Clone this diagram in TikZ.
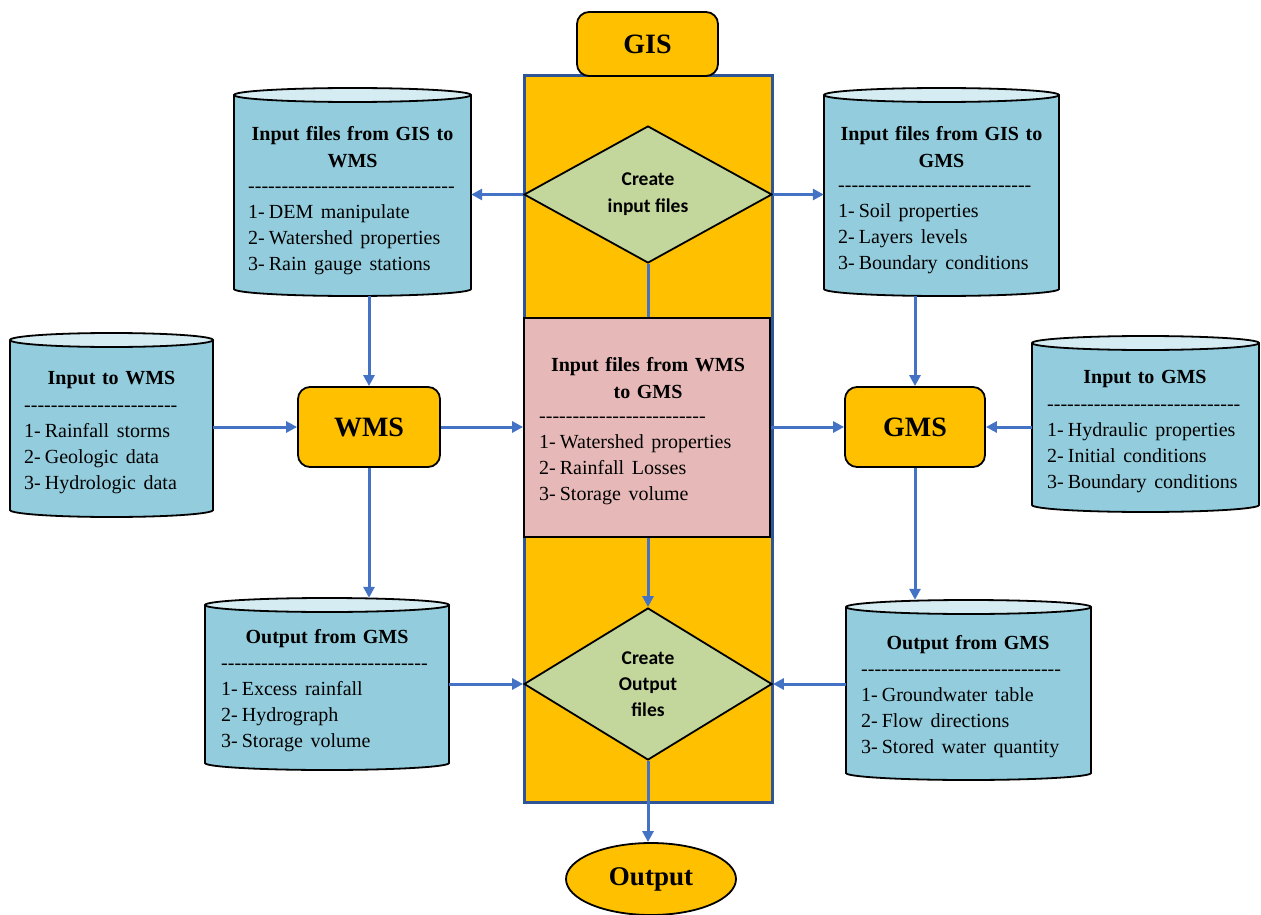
\documentclass[tikz,border=0pt]{standalone}
\usepackage{fontspec}
\setmainfont{Liberation Serif}
\newfontfamily\serf{Liberation Serif}
\newfontfamily\calib{Carlito}
\usetikzlibrary{arrows.meta,shapes.geometric,calc}
\definecolor{org}{HTML}{FFC000}
\definecolor{cylb}{HTML}{93CDDD}
\definecolor{cylt}{HTML}{D5ECF2}
\definecolor{pnk}{HTML}{E6B9B8}
\definecolor{grn}{HTML}{C3D69B}
\definecolor{arr}{HTML}{4472C4}
\definecolor{colb}{HTML}{2F5597}
\newcommand\hyph[1]{\foreach \i in {1,...,#1}{-}}
\newcommand\wspt{\spaceskip=.33em plus .1em\relax}
\newcommand\wspi{\spaceskip=.38em plus .1em\relax}
\newcommand\nm[1]{#1-\hspace{.2em}}
\newcommand\mycyl[5]{%
  \pgfmathsetmacro\cxr{(#4-#2)/2}%
  \pgfmathsetmacro\cxc{(#4+#2)/2}%
  \pgfmathsetmacro\cyc{(#5+#3)/2}%
  \pgfmathsetmacro\cw{#4-#2}%
  \pgfmathsetmacro\ch{#5-#3+14}%
  \fill[cylb] (#2,#3) -- (#2,#5) arc[start angle=180,end angle=360,x radius=\cxr pt,y radius=7pt] -- (#4,#3) -- cycle;
  \draw[cylline] (#2,#3) -- (#2,#5) arc[start angle=180,end angle=360,x radius=\cxr pt,y radius=7pt] -- (#4,#3);
  \draw[cylline,fill=cylt] (\cxc,#3) ellipse[x radius=\cxr pt,y radius=7pt];
  \node[inner sep=0,minimum width=\cw pt,minimum height=\ch pt] (#1) at (\cxc,\cyc) {};
}
\begin{document}
\begin{tikzpicture}[x=1pt,y=-1pt,
  cylline/.style={draw=black,line width=1.8pt},
  arrow/.style={draw=arr,line width=3pt,-{Triangle[length=11pt,width=11pt]}},
  plainln/.style={draw=arr,line width=3pt},
  rbox/.style={draw=black,line width=1.8pt,fill=org,rounded corners=12pt,inner sep=0,font=\serf\bfseries\fontsize{28}{32}\selectfont},
  dia/.style={diamond,draw=black,line width=1.8pt,fill=grn,inner sep=0,align=center},
  ttl/.style={inner sep=0,align=center,font=\serf\bfseries\fontsize{20}{27}\selectfont\wspt,anchor=north},
  itm/.style={inner sep=0,align=left,font=\serf\fontsize{20}{26}\selectfont\wspi,anchor=north west}]
\useasboundingbox (0,0) rectangle (1261,915);

% central column
\node[draw=colb,line width=3pt,fill=org,minimum width=248pt,minimum height=726pt,inner sep=0] (col) at (648,439) {};
\node[rbox,minimum width=141pt,minimum height=64pt] (gis) at (647.5,44) {GIS};
\node[dia,minimum width=248pt,minimum height=137pt,aspect=1.81,font=\calib\bfseries\fontsize{19.5}{27}\selectfont] (d1) at (648,194.5) {Create\\input files};
\node[draw=black,line width=1.8pt,fill=pnk,minimum width=246pt,minimum height=219pt,inner sep=0] (pink) at (647,427.5) {};
\node[dia,minimum width=248pt,minimum height=152pt,aspect=1.63,font=\calib\bfseries\fontsize{19.5}{26}\selectfont] (d2) at (648,684) {Create\\Output\\files};
\node[ellipse,draw=black,line width=1.8pt,fill=org,minimum width=170pt,minimum height=72pt,inner sep=0,font=\serf\bfseries\fontsize{27}{30}\selectfont] (out) at (651,879) {Output};

\node[rbox,minimum width=142pt,minimum height=80pt] (wms) at (369,427) {WMS};
\node[rbox,minimum width=140pt,minimum height=80pt] (gms) at (915,427) {GMS};

% cylinders
\mycyl{c1}{234}{95}{471}{289}
\mycyl{c2}{824}{95}{1059}{289}
\mycyl{c3}{10}{340}{213}{510}
\mycyl{c4}{1032}{343}{1259}{505}
\mycyl{c5}{205}{605}{449}{763}
\mycyl{c6}{846}{607}{1091}{773}

% texts
\node[ttl] (t1) at (352.5,125.8) {Input files from GIS to\\WMS};
\node[itm] (b1) at (248,174.5) {\strut\hyph{31}\\\nm1DEM manipulate\\\nm2Watershed properties\\\nm3Rain gauge stations};
\node[ttl] (t2) at (941.5,125.8) {Input files from GIS to\\GMS};
\node[itm] (b2) at (838,173.5) {\strut\hyph{29}\\\nm1Soil properties\\\nm2Layers levels\\\nm3Boundary conditions};
\node[ttl] (t3) at (111.5,370.8) {Input to WMS};
\node[itm] (b3) at (24,393.5) {\strut\hyph{23}\\\nm1Rainfall storms\\\nm2Geologic data\\\nm3Hydrologic data};
\node[ttl] (t4) at (1145,369.8) {Input to GMS};
\node[itm] (b4) at (1047,392.5) {\strut\hyph{29}\\\nm1Hydraulic properties\\\nm2Initial conditions\\\nm3Boundary conditions};
\node[ttl] (tp) at (648,356.8) {Input files from WMS\\to GMS};
\node[itm] (bp) at (539,404.5) {\strut\hyph{25}\\\nm1Watershed properties\\\nm2Rainfall Losses\\\nm3Storage volume};
\node[ttl] (t5) at (327,628.8) {Output from GMS};
\node[itm] (b5) at (221,651.5) {\strut\hyph{31}\\\nm1Excess rainfall\\\nm2Hydrograph\\\nm3Storage volume};
\node[ttl] (t6) at (968,634.8) {Output from GMS};
\node[itm] (b6) at (861,657.5) {\strut\hyph{30}\\\nm1Groundwater table\\\nm2Flow directions\\\nm3Stored water quantity};

% connectors
\draw[arrow] (d1.west) -- (d1.west -| c1.east);
\draw[arrow] (d1.east) -- (d1.east -| c2.west);
\draw[plainln] (d1.south) -- (d1.south |- pink.north);
\draw[arrow] (wms.north |- c1.south) -- (wms.north);
\draw[arrow] (gms.north |- c2.south) -- (gms.north);
\draw[arrow] (wms.west -| c3.east) -- (wms.west);
\draw[arrow] (gms.east -| c4.west) -- (gms.east);
\draw[arrow] (wms.east) -- (wms.east -| pink.west);
\draw[arrow] (gms.west -| pink.east) -- (gms.west);
\draw[arrow] (wms.south) -- (wms.south |- c5.north);
\draw[arrow] (gms.south) -- (gms.south |- c6.north);
\draw[arrow] (pink.south -| d2.north) -- (d2.north);
\draw[arrow] (d2.west -| c5.east) -- (d2.west);
\draw[arrow] (d2.east -| c6.west) -- (d2.east);
\draw[arrow] (d2.south) -- (d2.south |- out.north);
\end{tikzpicture}
\end{document}
